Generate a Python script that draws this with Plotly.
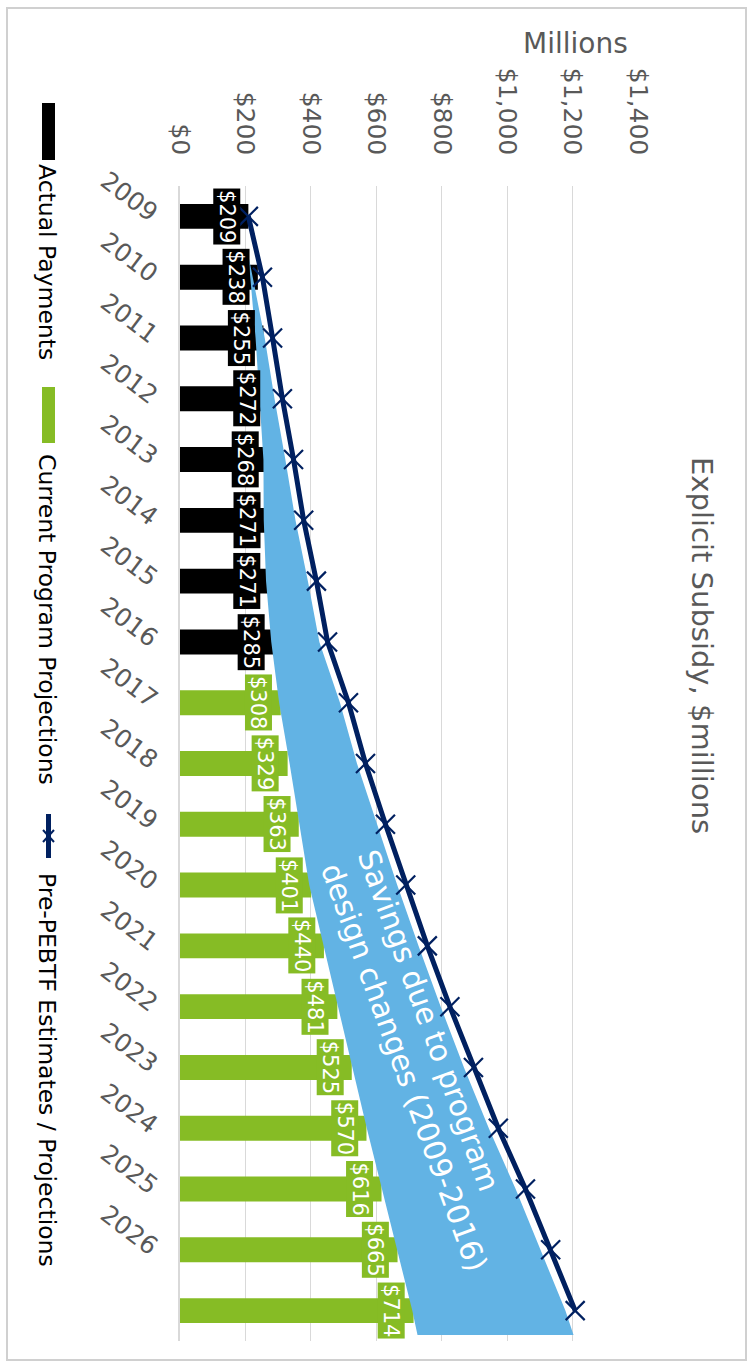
import plotly.graph_objects as go

# ---------------- data ----------------
years = list(range(2009, 2028))                      # 19 categories
tick_years = [str(y) for y in range(2009, 2027)]     # 2027 label not printed
actual_payments = [209, 238, 255, 272, 268, 271, 271, 285]             # 2009-2016
current_projections = [308, 329, 363, 401, 440, 481, 525, 570, 616, 665, 714]  # 2017-2027
pre_pebtf = [209, 252, 283, 313, 347, 378, 417, 451, 515, 567, 628,
             690, 756, 825, 897, 973, 1056, 1133, 1208]               # 2009-2027

# savings band (category positions, lower / upper edge in $M)
savings_pos = [0.64, 1, 2, 3, 4, 5, 6, 7, 8, 9, 10, 11, 12, 13, 14, 15, 16, 17, 18, 18.4]
savings_low = [209, 215, 231, 243, 255, 256, 263, 279, 303, 335, 365, 395,
               439, 484, 527, 571, 617, 664, 710, 726]
savings_high = [209, 223, 259, 289, 322, 353, 391, 426, 489, 541, 602, 664,
                729, 797, 868, 944, 1026, 1103, 1178, 1203]

x_ticks = [0, 200, 400, 600, 800, 1000, 1200, 1400]

BLACK = "#000000"
GREEN = "#86BC25"
BLUE = "#62B3E4"
NAVY = "#002060"
GREY_TXT = "#595959"
FONT = "DejaVu Sans"

W, H = 752, 1364
ML, MR, MT, MB = 180, 114, 186, 23
PW, PH = W - ML - MR, H - MT - MB


def xp(px):
    return (px - ML) / PW


def yp(py):
    return (H - MB - py) / PH


pos = list(range(len(years)))
actual_pos = pos[:len(actual_payments)]
proj_pos = pos[len(actual_payments):]

fig = go.Figure()

fig.add_trace(go.Bar(x=actual_payments, y=actual_pos, orientation="h",
                     marker=dict(color=BLACK, line=dict(width=0)), width=0.41,
                     name="Actual Payments"))
fig.add_trace(go.Bar(x=current_projections, y=proj_pos, orientation="h",
                     marker=dict(color=GREEN, line=dict(width=0)), width=0.41,
                     name="Current Program Projections"))

# savings band
fig.add_trace(go.Scatter(x=savings_low + savings_high[::-1],
                         y=savings_pos + savings_pos[::-1],
                         mode="lines", fill="toself", fillcolor=BLUE,
                         line=dict(width=0, color=BLUE), hoverinfo="skip",
                         name="Savings"))

fig.add_trace(go.Scatter(x=pre_pebtf, y=pos, mode="lines+markers",
                         line=dict(color=NAVY, width=5),
                         marker=dict(symbol="x-thin", size=19,
                                     line=dict(color=NAVY, width=2.2)),
                         name="Pre-PEBTF Estimates / Projections"))

annotations = []
# data labels
for v, p in zip(actual_payments, actual_pos):
    annotations.append(dict(x=v, y=p, xref="x", yref="y", text=f"${v}",
                            textangle=90, showarrow=False, xanchor="right",
                            yanchor="middle", xshift=-8, bgcolor=BLACK,
                            borderpad=1, font=dict(family=FONT, size=21, color="white")))
for v, p in zip(current_projections, proj_pos):
    annotations.append(dict(x=v, y=p, xref="x", yref="y", text=f"${v}",
                            textangle=90, showarrow=False, xanchor="right",
                            yanchor="middle", xshift=-8, bgcolor=GREEN,
                            borderpad=1, font=dict(family=FONT, size=21, color="white")))

# savings text
annotations.append(dict(x=741, y=13.9, xref="x", yref="y",
                        text="Savings due to program<br>design changes (2009-2016)",
                        textangle=70, showarrow=False, align="left",
                        xanchor="center", yanchor="middle",
                        font=dict(family=FONT, size=30, color="white")))

# title, units
annotations.append(dict(x=xp(702), y=yp(645), xref="paper", yref="paper",
                        text="Explicit Subsidy, $millions", textangle=90,
                        showarrow=False, xanchor="center", yanchor="middle",
                        font=dict(family=FONT, size=29, color=GREY_TXT)))
annotations.append(dict(x=xp(575), y=yp(43), xref="paper", yref="paper",
                        text="Millions", showarrow=False, xanchor="center",
                        yanchor="middle", font=dict(family=FONT, size=28, color=GREY_TXT)))

# legend texts
for txt, cy in [("Actual Payments", 262), ("Current Program Projections", 619),
                ("Pre-PEBTF Estimates / Projections", 1070)]:
    annotations.append(dict(x=xp(47), y=yp(cy), xref="paper", yref="paper",
                            text=txt, textangle=90, showarrow=False,
                            xanchor="center", yanchor="middle",
                            font=dict(family=FONT, size=23.5, color="#000000")))

shapes = [
    # outer border
    dict(type="rect", xref="paper", yref="paper", x0=xp(7), x1=xp(746),
         y0=yp(8), y1=yp(1360), line=dict(color="#d0d0d0", width=2), layer="below"),
    # legend markers
    dict(type="rect", xref="paper", yref="paper", x0=xp(42), x1=xp(55),
         y0=yp(103), y1=yp(160), fillcolor=BLACK, line=dict(width=0)),
    dict(type="rect", xref="paper", yref="paper", x0=xp(42), x1=xp(55),
         y0=yp(387), y1=yp(443), fillcolor=GREEN, line=dict(width=0)),
    dict(type="line", xref="paper", yref="paper", x0=xp(48.5), x1=xp(48.5),
         y0=yp(814), y1=yp(858), line=dict(color=NAVY, width=5)),
    dict(type="line", xref="paper", yref="paper", x0=xp(43), x1=xp(54),
         y0=yp(830), y1=yp(842), line=dict(color=NAVY, width=2)),
    dict(type="line", xref="paper", yref="paper", x0=xp(43), x1=xp(54),
         y0=yp(842), y1=yp(830), line=dict(color=NAVY, width=2)),
]

fig.update_layout(
    width=W, height=H, margin=dict(l=ML, r=MR, t=MT, b=MB, pad=0),
    plot_bgcolor="white", paper_bgcolor="white", showlegend=False,
    font=dict(family=FONT, color=GREY_TXT),
    annotations=annotations, shapes=shapes, bargap=0.5,
    xaxis=dict(range=[0, 1400], side="top", tickvals=x_ticks,
               ticktext=[f"${v:,}" for v in x_ticks], tickangle=90,
               showgrid=True, gridcolor="#d9d9d9", gridwidth=1,
               zeroline=False, showline=False, ticks="",
               ticklabelstandoff=26,
               tickfont=dict(family=FONT, size=25, color=GREY_TXT)),
    yaxis=dict(range=[18.5, -0.5], tickvals=pos[:len(tick_years)], ticktext=tick_years,
               tickangle=37, showgrid=False, zeroline=False,
               showline=True, linecolor="#d9d9d9", linewidth=2, ticks="",
               ticklabelstandoff=16,
               tickfont=dict(family=FONT, size=25, color=GREY_TXT)),
)

fig.write_html("out.html")
